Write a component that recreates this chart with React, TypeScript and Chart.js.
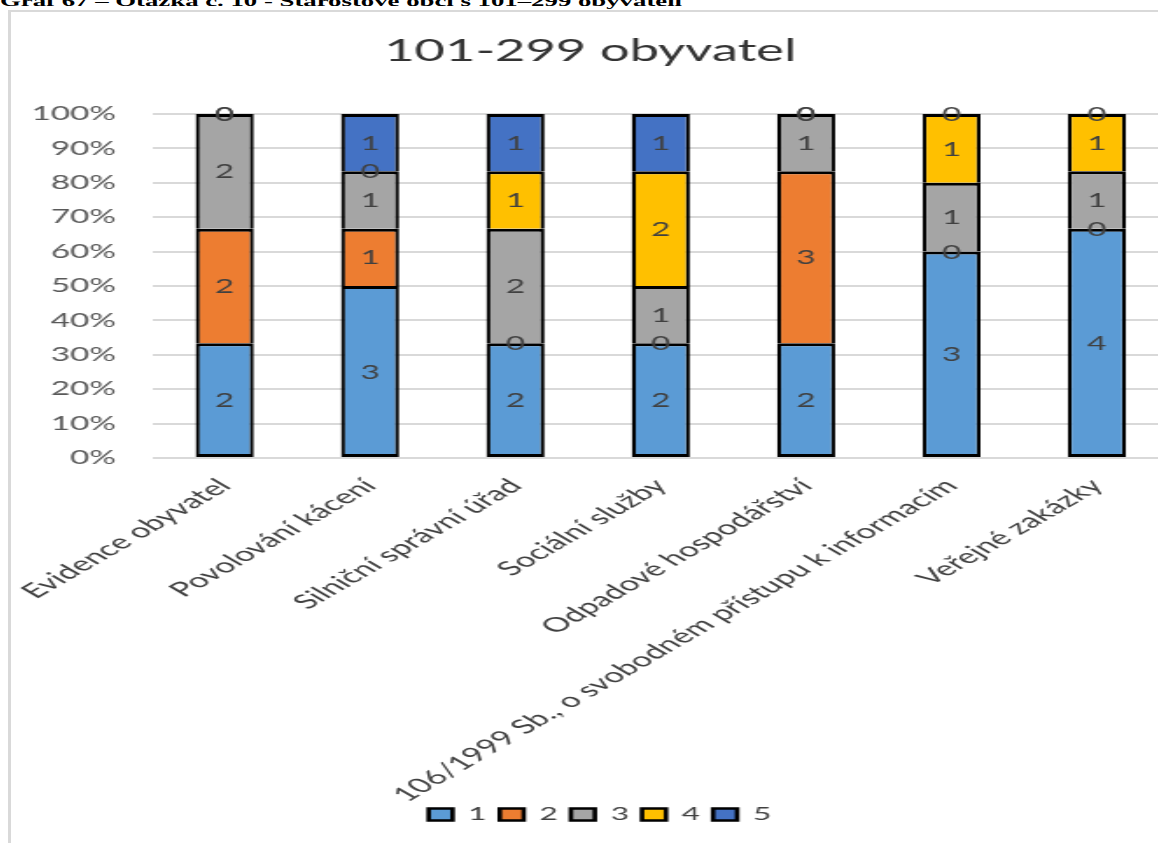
import { useEffect, useRef } from 'react';
import { Chart, registerables } from 'chart.js';

Chart.register(...registerables);

const HEADER = 'Graf 67 – Otázka č. 10 - Starostové obcí s 101–299 obyvateli';
const TITLE = '101-299 obyvatel';

const CATEGORIES = [
  'Evidence obyvatel',
  'Povolování kácení',
  'Silniční správní úřad',
  'Sociální služby',
  'Odpadové hospodářství',
  '106/1999 Sb., o svobodném přístupu k informacím',
  'Veřejné zakázky',
];

const SERIES_NAMES = ['1', '2', '3', '4', '5'];
const SERIES_1 = [2, 3, 2, 2, 2, 3, 4];
const SERIES_2 = [2, 1, 0, 0, 3, 0, 0];
const SERIES_3 = [2, 1, 2, 1, 1, 1, 1];
const SERIES_4 = [0, 0, 1, 2, 0, 1, 1];
const SERIES_5 = [0, 1, 1, 1, 0, 0, 0];
const SERIES = [SERIES_1, SERIES_2, SERIES_3, SERIES_4, SERIES_5];

const COLORS = ['#5B9BD5', '#ED7D31', '#A5A5A5', '#FFC000', '#4472C4'];
const Y_TICK_LABELS = ['0%', '10%', '20%', '30%', '40%', '50%', '60%', '70%', '80%', '90%', '100%'];

const S = 1.75; // horizontal stretch of the original picture
const CW = 662;
const CH = 831;
const FONT = 'Lato';

const TOTALS = CATEGORIES.map((_, i) => SERIES.reduce((a, s) => a + s[i], 0));

const valueLabels = {
  id: 'valueLabels',
  afterLayout(chart: any) {
    // let the rotated category labels run past the axis box (beside the legend)
    chart.scales.x.bottom = chart.height;
    // nudge the legend slightly to the right, as in the original
    if (chart.legend) {
      chart.legend.left += 5.5;
      chart.legend.right += 5.5;
    }
  },
  afterDatasetsDraw(chart: any) {
    const ctx = chart.ctx;
    ctx.save();
    ctx.font = `19px ${FONT}`;
    ctx.fillStyle = '#404040';
    ctx.textAlign = 'center';
    ctx.textBaseline = 'middle';
    chart.data.datasets.forEach((_: any, di: number) => {
      const meta = chart.getDatasetMeta(di);
      meta.data.forEach((el: any, i: number) => {
        const count = SERIES[di][i];
        const p = el.getProps(['x', 'y', 'base'], true);
        ctx.fillText(String(count), p.x, (p.y + p.base) / 2 + 1);
      });
    });
    ctx.restore();
  },
};

export default function App() {
  const ref = useRef<HTMLCanvasElement>(null);

  useEffect(() => {
    if (!ref.current) return;
    Chart.defaults.font.family = FONT;
    const chart = new Chart(ref.current, {
      type: 'bar',
      data: {
        labels: CATEGORIES,
        datasets: SERIES.map((s, di) => ({
          label: SERIES_NAMES[di],
          data: s.map((v, i) => (v / TOTALS[i]) * 100),
          backgroundColor: COLORS[di],
          borderColor: '#000000',
          borderWidth: { top: 3, bottom: 3, left: 2.3, right: 2.3 },
          borderSkipped: di === 0 ? false : 'start',
          barPercentage: 1,
          categoryPercentage: 0.4,
        })),
      },
      options: {
        responsive: false,
        animation: false,
        devicePixelRatio: 1,
        layout: { padding: { left: 0, right: 0, top: 0, bottom: 9.5 } },
        plugins: {
          title: {
            display: true,
            text: TITLE,
            color: '#333333',
            font: { family: FONT, size: 30, weight: 'normal' },
            padding: { top: 21.5, bottom: 44.5 },
          },
          legend: {
            position: 'bottom',
            labels: {
              boxWidth: 13.7,
              boxHeight: 12,
              padding: 7.5,
              color: '#404040',
              font: { family: FONT, size: 18 },
            },
          },
          tooltip: { enabled: false },
        },
        scales: {
          x: {
            stacked: true,
            grid: { display: false },
            border: { display: false },
            ticks: {
              autoSkip: false,
              maxRotation: 45,
              minRotation: 45,
              padding: 8,
              color: '#404040',
              font: { family: FONT, size: 20 },
            },
            afterFit(scale: any) {
              scale.height = 340;
              scale.paddingLeft = 0;
              scale.paddingRight = 0;
            },
          },
          y: {
            stacked: true,
            min: 0,
            max: 100,
            ticks: {
              stepSize: 10,
              padding: 20.6,
              color: '#595959',
              font: { family: FONT, size: 19 },
              callback: (_v: any, i: number) => Y_TICK_LABELS[i],
            },
            grid: { color: '#d9d9d9', lineWidth: 2, drawTicks: false },
            border: { display: false },
            afterFit(scale: any) {
              scale.width = 80.6;
            },
          },
        },
      },
      plugins: [valueLabels],
    } as any);
    return () => chart.destroy();
  }, []);

  return (
    <div
      style={{
        position: 'fixed',
        left: 0,
        top: 0,
        width: 1158,
        height: 843,
        overflow: 'hidden',
        background: '#ffffff',
      }}
    >
      <div
        style={{
          position: 'absolute',
          left: 0,
          top: -7,
          transform: `scaleX(${S})`,
          transformOrigin: '0 0',
          fontFamily: '"Liberation Serif", serif',
          fontWeight: 'bold',
          fontSize: 15.3,
          lineHeight: '16px',
          whiteSpace: 'nowrap',
          color: '#000',
        }}
      >
        {HEADER}
      </div>
      <div
        style={{
          position: 'absolute',
          left: 8,
          top: 10,
          width: 2000,
          height: 2000,
          borderTop: '2px solid #d9d9d9',
          borderLeft: '3px solid #d9d9d9',
        }}
      />
      <div
        style={{
          position: 'absolute',
          left: 11,
          top: 12,
          transform: `scaleX(${S})`,
          transformOrigin: '0 0',
        }}
      >
        <canvas ref={ref} width={CW} height={CH} style={{ display: 'block' }} />
      </div>
    </div>
  );
}
